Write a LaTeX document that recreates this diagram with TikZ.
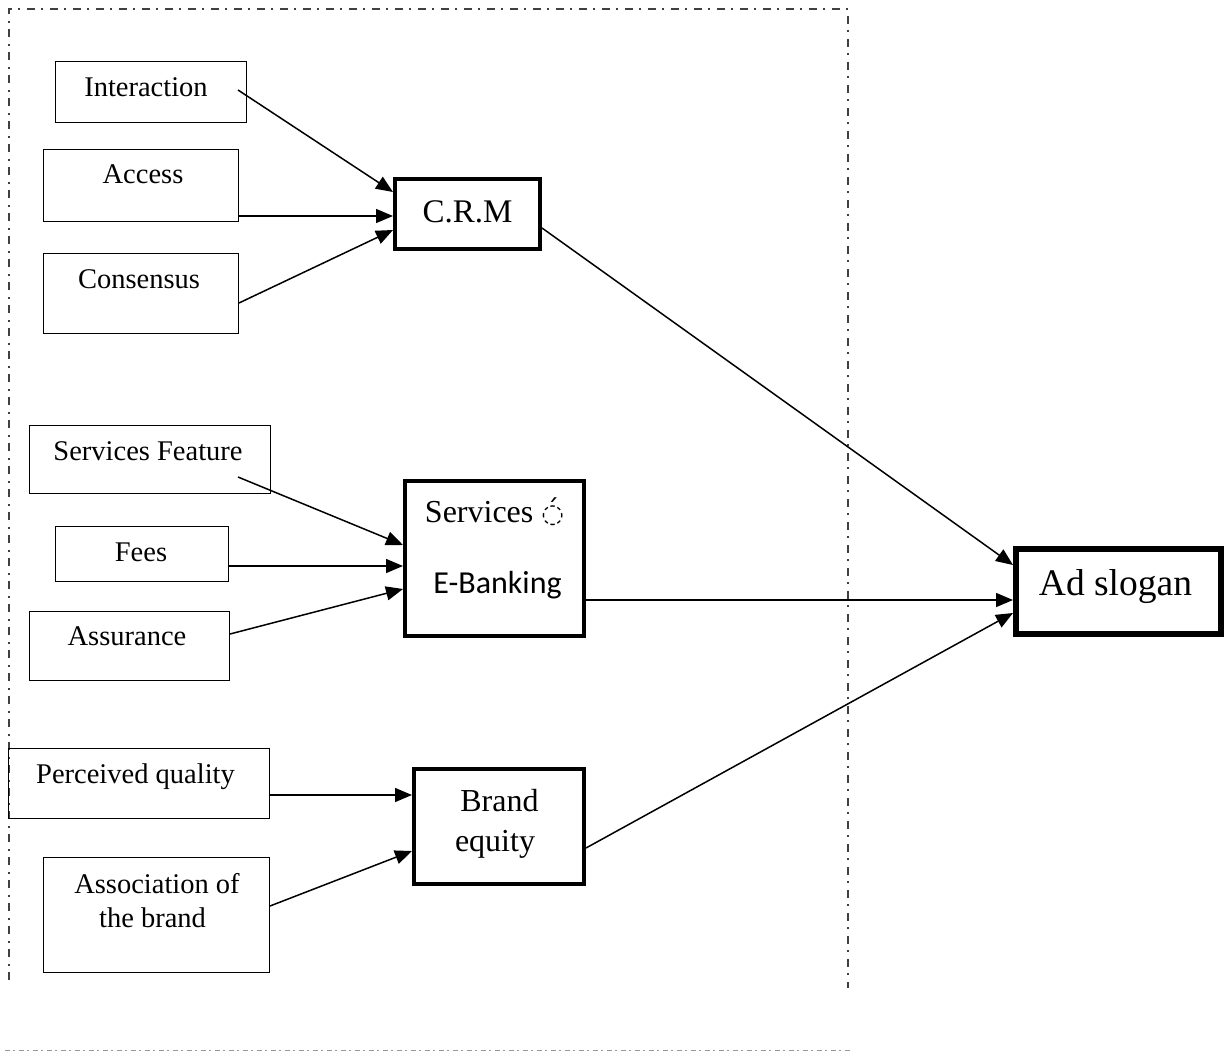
\documentclass[tikz,border=0pt]{standalone}
\usepackage{fontspec}
\setmainfont{Liberation Serif}
\newfontfamily\calib{Carlito}
\newfontfamily\dvs{DejaVu Sans}
\usetikzlibrary{arrows.meta}
\begin{document}
\begin{tikzpicture}[x=1pt,y=-1pt,
  box/.style={draw, line width=1.4pt, outer sep=0.7pt, inner sep=0pt},
  tbox/.style={draw, line width=4pt, outer sep=2pt, inner sep=0pt},
  abox/.style={draw, line width=6pt, outer sep=3pt, inner sep=0pt},
  txt/.style={anchor=base, inner sep=0pt, font=\fontsize{28.5}{34}\selectfont},
  mtxt/.style={anchor=base, inner sep=0pt, font=\fontsize{33}{38}\selectfont},
  ltxt/.style={anchor=base, inner sep=0pt, font=\fontsize{37.5}{42}\selectfont},
  arr/.style={line width=1.5pt, -{Triangle[length=17pt,width=14pt]}},
  frame/.style={line width=2pt, black!75, dash pattern=on 8pt off 6pt on 2pt off 7pt}
]
\useasboundingbox (0,0) rectangle (1225,1051);
% frame
\draw[frame] (9,980) -- (9,9) -- (848,9) -- (848,988);
\draw[line width=2pt, black!40, dash pattern=on 5pt off 3pt on 2pt off 4pt] (5,1050.5) -- (850,1050.5);
% boxes
\node[box, minimum width=190.6pt, minimum height=60.6pt] (ia) at (151,92) {};
\node[box, minimum width=194.6pt, minimum height=71.6pt] (ac) at (141,185.5) {};
\node[box, minimum width=194.6pt, minimum height=79.6pt] (cs) at (141,293.5) {};
\node[box, minimum width=240.6pt, minimum height=67.6pt] (sf) at (150,459.5) {};
\node[box, minimum width=172.6pt, minimum height=54.6pt] (fe) at (142,554) {};
\node[box, minimum width=199.6pt, minimum height=68.6pt] (as) at (129.5,646) {};
\node[box, minimum width=260.6pt, minimum height=69.6pt] (pq) at (139,783.5) {};
\node[box, minimum width=225.6pt, minimum height=114.6pt] (ab) at (156.5,915) {};
\node[tbox, minimum width=145pt, minimum height=70pt] (crm) at (467.5,214) {};
\node[tbox, minimum width=179pt, minimum height=155pt] (se) at (494.5,558.5) {};
\node[tbox, minimum width=170pt, minimum height=115pt] (be) at (499,826.5) {};
\node[abox, minimum width=205pt, minimum height=85pt] (ad) at (1118.5,591.5) {};
% texts
\node[txt] (t1) at (146,97) {Interaction};
\node[txt] (t2) at (143,184) {Access};
\node[txt] (t3) at (139,288) {Consensus};
\node[txt] (t4) at (148,460) {Services Feature};
\node[txt] (t5) at (141,561) {Fees};
\node[txt] (t6) at (127,645) {Assurance};
\node[txt] (t7) at (135.5,783) {Perceived quality};
\node[txt] (t8) at (157,893) {Association of};
\node[txt] (t9) at (152.5,927) {the brand};
\node[mtxt] (t10) at (467.5,222) {C.R.M};
\node[mtxt, font=\fontsize{32}{38}\selectfont] (t11) at (494.5,522) {Services {\dvs\fontsize{26}{30}\selectfont\ooalign{◌\cr\hidewidth\raisebox{0.12em}{´}\hidewidth\cr}}};
\node[mtxt, font=\calib\fontsize{32}{38}\selectfont] (t12) at (497.5,593) {E-Banking};
\node[mtxt, font=\fontsize{32}{38}\selectfont] (t13) at (499.5,811) {Brand};
\node[mtxt, font=\fontsize{32}{38}\selectfont] (t14) at (495,851) {equity};
\node[ltxt] (t15) at (1115.5,595) {Ad slogan};
% connectors
\draw[arr] ([xshift=-9pt,yshift=2pt]ia.east) -- ([yshift=22pt]crm.west);
\draw[arr] ([yshift=-30.5pt]ac.east) -- ([yshift=-2pt]crm.west);
\draw[arr] ([yshift=-9.5pt]cs.east) -- ([yshift=-16pt]crm.west);
\draw[arr] ([xshift=-33pt,yshift=-17.5pt]sf.east) -- ([yshift=13.5pt]se.west);
\draw[arr] ([yshift=-12pt]fe.east) -- ([yshift=-7.5pt]se.west);
\draw[arr] ([yshift=12pt]as.east) -- ([yshift=-30.5pt]se.west);
\draw[arr] ([yshift=-11.5pt]pq.east) -- ([yshift=31.5pt]be.west);
\draw[arr] ([yshift=9pt]ab.east) -- ([yshift=-24.5pt]be.west);
\draw[arr] ([yshift=-14pt]crm.east) -- ([yshift=26.5pt]ad.west);
\draw[arr] ([yshift=-41.5pt]se.east) -- ([yshift=-8.5pt]ad.west);
\draw[arr] ([yshift=-21.5pt]be.east) -- ([yshift=-21.5pt]ad.west);
\end{tikzpicture}
\end{document}
